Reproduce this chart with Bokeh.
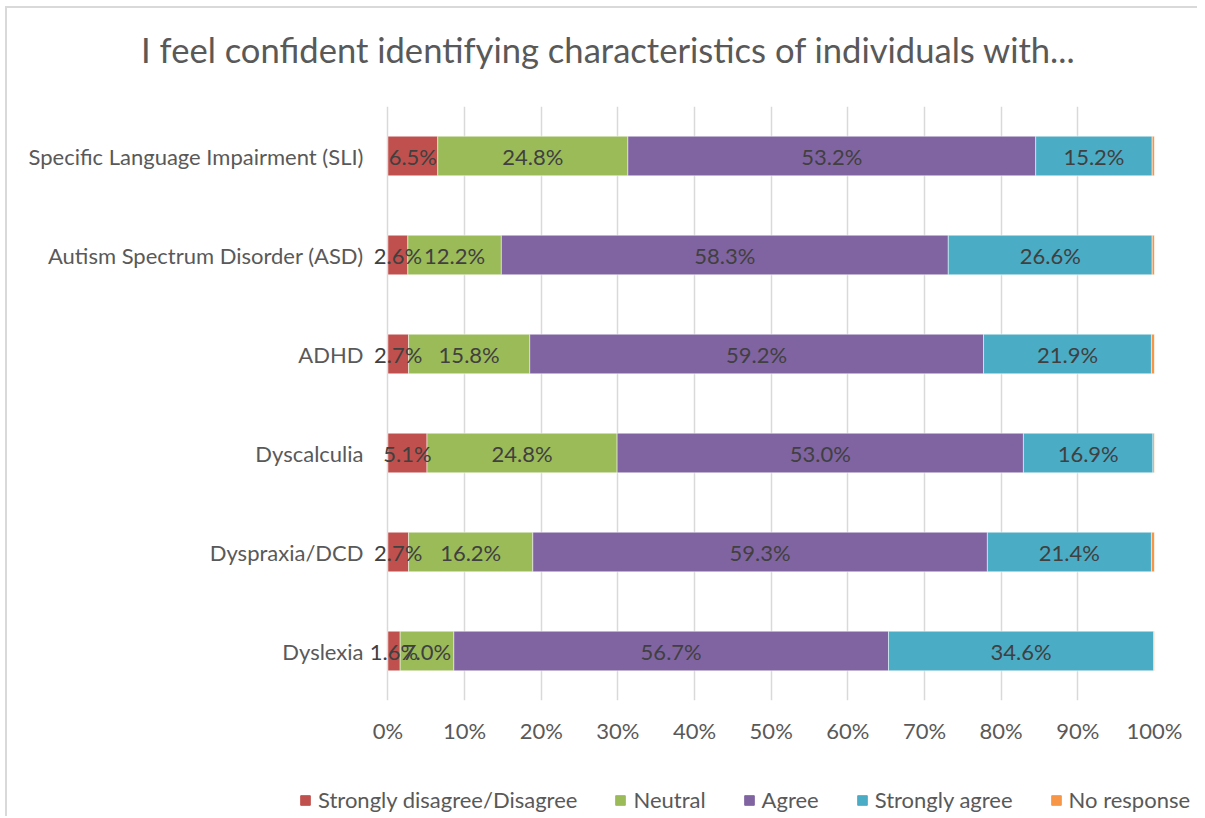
from bokeh.plotting import figure
from bokeh.models import (ColumnDataSource, FactorRange, Range1d, FixedTicker, Label,
                          Legend, LegendItem)
from bokeh.layouts import column
from bokeh.embed import file_html
from bokeh.resources import INLINE
from bokeh.core.properties import value

# ---- data ----
categories = ["Dyslexia", "Dyspraxia/DCD", "Dyscalculia", "ADHD",
              "Autism Spectrum Disorder (ASD)", "Specific Language Impairment (SLI)"]
disagree = [1.6, 2.7, 5.1, 2.7, 2.6, 6.5]
neutral = [7.0, 16.2, 24.8, 15.8, 12.2, 24.8]
agree = [56.7, 59.3, 53.0, 59.2, 58.3, 53.2]
strongly_agree = [34.6, 21.4, 16.9, 21.9, 26.6, 15.2]
no_response = [0.1, 0.4, 0.2, 0.4, 0.3, 0.3]
series_names = ["Strongly disagree/Disagree", "Neutral", "Agree", "Strongly agree", "No response"]
series_keys = ["disagree", "neutral", "agree", "strongly_agree", "no_response"]
colors = ["#C0504D", "#9BBB59", "#8064A2", "#4BACC6", "#F79646"]
x_ticks = [0, 10, 20, 30, 40, 50, 60, 70, 80, 90, 100]
tick_labels = ["0%", "10%", "20%", "30%", "40%", "50%", "60%", "70%", "80%", "90%", "100%"]
title_text = "I feel confident identifying characteristics of individuals with..."

FONT = "Lato"
TXT = "#595959"
FS = "22px"
W = 1190


def bare_fig(h):
    f = figure(width=W, height=h, x_range=Range1d(0, 1), y_range=Range1d(0, 1),
               x_axis_location=None, y_axis_location=None, output_backend="svg",
               toolbar_location=None, min_border=0, frame_align=False)
    f.grid.visible = False
    f.outline_line_color = None
    return f


# ---- title strip ----
tf = bare_fig(82)
tf.add_layout(Label(x=601, y=41, x_units="screen", y_units="screen", text=title_text,
                    text_align="center", text_baseline="middle", text_font=FONT,
                    text_font_size="34.6px", text_color=TXT))

# ---- main chart ----
src = ColumnDataSource(dict(cat=categories, disagree=disagree, neutral=neutral, agree=agree,
                            strongly_agree=strongly_agree, no_response=no_response))

p = figure(width=W, height=670, y_range=FactorRange(factors=categories, range_padding=0),
           x_range=Range1d(-2.4, 100), output_backend="svg", toolbar_location=None,
           min_border_left=362, min_border_right=43, min_border_top=16, min_border_bottom=60,
           frame_align=False)

p.hbar_stack(series_keys, y="cat", height=0.4, color=colors, line_color="white",
             line_width=0.5, source=src)

lx, ly, lt = [], [], []
all_series = [disagree, neutral, agree, strongly_agree]
for i, c in enumerate(categories):
    start = 0.0
    for s in all_series:
        v = s[i]
        lx.append(start + v / 2)
        ly.append(c)
        lt.append(f"{v:.1f}%")
        start += v
lsrc = ColumnDataSource(dict(x=lx, y=ly, t=lt))
p.text(x="x", y="y", text="t", source=lsrc, text_align="center", text_baseline="middle",
       text_font=value(FONT), text_font_size=FS, text_color="#404040")

p.xaxis.ticker = FixedTicker(ticks=x_ticks)
p.xaxis.major_label_overrides = {t: l for t, l in zip(x_ticks, tick_labels)}
for ax in (p.xaxis, p.yaxis):
    ax.axis_line_color = None
    ax.major_tick_line_color = None
    ax.minor_tick_line_color = None
    ax.major_label_text_font = FONT
    ax.major_label_text_font_size = FS
    ax.major_label_text_color = TXT
p.yaxis.major_label_standoff = 0
p.xaxis.major_label_standoff = 10

p.xgrid.ticker = FixedTicker(ticks=x_ticks)
p.xgrid.grid_line_color = "#D9D9D9"
p.xgrid.grid_line_width = 1.5
p.ygrid.grid_line_color = None
p.outline_line_color = None

# ---- legend strip (swatches use one hidden off-range bar per series) ----
lf = bare_fig(56)
items = []
for n, c in zip(series_names, colors):
    r = lf.hbar(y=[-5], left=[0], right=[0.1], height=0.4, color=c)
    items.append(LegendItem(label=n, renderers=[r]))
lg = Legend(items=items, orientation="horizontal", location=(292, 3), padding=0, margin=0,
            spacing=37, glyph_width=12, glyph_height=12, label_standoff=7,
            label_text_font=FONT, label_text_font_size=FS, label_text_color=TXT,
            border_line_color=None, background_fill_alpha=0)
lf.add_layout(lg, "center")

layout = column(tf, p, lf, spacing=0,
                styles={"border-left": "2px solid #d9d9d9", "border-top": "2px solid #d9d9d9",
                        "margin-left": "5px", "margin-top": "6px"})

open("out.html", "w").write(file_html(layout, INLINE))
